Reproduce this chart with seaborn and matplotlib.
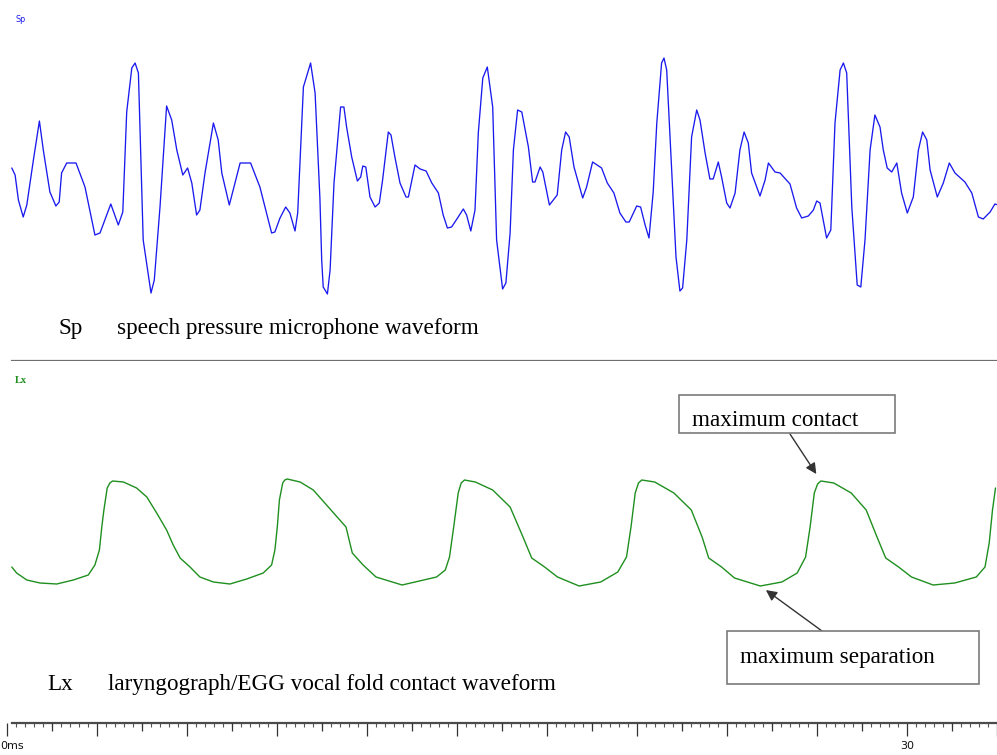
import numpy as np
import pandas as pd
import matplotlib
matplotlib.use("Agg")
import matplotlib.pyplot as plt
import matplotlib.transforms as mtransforms
from matplotlib.patches import Rectangle
from matplotlib.ticker import FixedLocator, FixedFormatter, NullFormatter
import seaborn as sns

# ---- speech pressure (Sp) waveform: time in ms, relative amplitude ----
sp_t = [0.16, 0.27, 0.38, 0.54, 0.66, 0.88, 1.08, 1.21, 1.43, 1.63, 1.74, 1.82, 1.99, 2.30, 2.60,
        2.93, 3.10, 3.46, 3.71, 3.86, 3.99, 4.16, 4.27, 4.38, 4.54, 4.80, 4.91, 5.10, 5.32, 5.49,
        5.66, 5.86, 6.02, 6.16, 6.32, 6.43, 6.60, 6.88, 7.04, 7.16, 7.41, 7.54, 7.77, 8.12, 8.43,
        8.82, 8.93, 9.10, 9.29, 9.43, 9.60, 9.69, 9.88, 10.12, 10.27, 10.43, 10.49, 10.54, 10.68,
        10.77, 10.90, 11.12, 11.23, 11.32, 11.49, 11.68, 11.79, 11.86, 11.96, 12.10, 12.27, 12.41,
        12.52, 12.71, 12.80, 12.93, 13.10, 13.30, 13.38, 13.60, 13.77, 13.97, 14.16, 14.38, 14.54,
        14.68, 14.82, 15.04, 15.21, 15.32, 15.46, 15.60, 15.71, 15.86, 16.01, 16.19, 16.32, 16.52,
        16.63, 16.77, 16.88, 17.02, 17.16, 17.38, 17.52, 17.60, 17.77, 17.86, 18.08, 18.21, 18.34,
        18.49, 18.62, 18.74, 18.90, 19.19, 19.32, 19.52, 19.82, 20.01, 20.23, 20.43, 20.63, 20.74,
        20.99, 21.12, 21.27, 21.40, 21.54, 21.66, 21.82, 21.90, 21.99, 22.16, 22.30, 22.43, 22.52,
        22.66, 22.82, 22.99, 23.10, 23.27, 23.43, 23.54, 23.71, 23.82, 23.99, 24.10, 24.27, 24.43,
        24.57, 24.71, 24.82, 25.10, 25.27, 25.38, 25.60, 25.77, 26.10, 26.32, 26.49, 26.71, 26.88,
        26.99, 27.10, 27.32, 27.46, 27.60, 27.77, 27.88, 27.99, 28.16, 28.34, 28.46, 28.60, 28.77,
        28.93, 29.10, 29.21, 29.34, 29.49, 29.66, 29.82, 30.01, 30.21, 30.38, 30.52, 30.66, 30.77,
        31.01, 31.21, 31.41, 31.60, 31.93, 32.16, 32.38, 32.54, 32.77, 32.93, 33.04]
sp_amp = [0.10, 0.03, -0.22, -0.39, -0.27, 0.18, 0.57, 0.28, -0.14, -0.28, -0.24, 0.05, 0.15, 0.15,
          -0.09, -0.57, -0.55, -0.26, -0.47, -0.34, 0.66, 1.10, 1.15, 1.05, -0.62, -1.15, -1.02,
          -0.29, 0.72, 0.58, 0.28, 0.03, 0.10, -0.05, -0.37, -0.32, 0.05, 0.55, 0.38, 0.05, -0.27,
          -0.12, 0.15, 0.15, -0.09, -0.55, -0.54, -0.40, -0.29, -0.35, -0.53, -0.35, 0.91, 1.15,
          0.85, -0.20, -0.82, -1.09, -1.16, -0.92, -0.05, 0.71, 0.71, 0.51, 0.21, -0.03, 0.01, 0.12,
          0.11, -0.19, -0.29, -0.25, -0.02, 0.46, 0.43, 0.21, -0.05, -0.19, -0.19, 0.13, 0.09, 0.07,
          -0.05, -0.15, -0.37, -0.50, -0.49, -0.39, -0.31, -0.37, -0.53, -0.32, 0.45, 1.00, 1.11,
          0.71, -0.62, -1.11, -1.05, -0.55, 0.28, 0.68, 0.66, 0.31, -0.04, -0.04, 0.11, 0.06, -0.27,
          -0.22, -0.17, 0.28, 0.46, 0.41, 0.11, -0.20, -0.09, 0.16, 0.10, -0.05, -0.15, -0.35, -0.44,
          -0.44, -0.28, -0.29, -0.47, -0.60, -0.14, 0.55, 1.15, 1.20, 1.08, 0.05, -0.79, -1.13,
          -1.10, -0.62, 0.41, 0.68, 0.58, 0.25, -0.01, -0.01, 0.16, 0.01, -0.25, -0.30, -0.15, 0.28,
          0.46, 0.35, 0.05, -0.18, -0.02, 0.15, 0.06, 0.05, -0.06, -0.30, -0.40, -0.38, -0.32, -0.23,
          -0.25, -0.60, -0.52, 0.55, 1.08, 1.15, 1.05, -0.29, -1.07, -1.09, -0.62, 0.28, 0.63, 0.51,
          0.28, 0.10, 0.06, 0.15, -0.15, -0.35, -0.19, 0.28, 0.46, 0.38, 0.08, -0.19, -0.05, 0.15,
          0.05, -0.04, -0.15, -0.39, -0.41, -0.34, -0.26, -0.27]

# ---- laryngograph (Lx) vocal fold contact waveform ----
lx_t = [0.16, 0.32, 0.66, 1.10, 1.66, 2.21, 2.71, 2.93, 3.08, 3.16, 3.23, 3.34, 3.43, 3.52, 3.88,
        4.32, 4.66, 4.99, 5.32, 5.54, 5.77, 6.10, 6.43, 6.88, 7.43, 7.99, 8.54, 8.82, 8.93, 9.01,
        9.08, 9.19, 9.26, 9.34, 9.77, 10.21, 10.71, 11.30, 11.51, 11.87, 12.30, 13.17, 14.32,
        14.61, 14.75, 14.89, 15.04, 15.14, 15.25, 15.61, 16.19, 16.77, 17.20, 17.49, 17.92, 18.35,
        19.07, 19.79, 20.36, 20.65, 20.80, 20.94, 21.05, 21.16, 21.59, 22.23, 22.81, 23.17, 23.39,
        23.82, 24.25, 25.11, 25.83, 26.34, 26.62, 26.77, 26.91, 27.02, 27.13, 27.56, 28.14, 28.64,
        29.00, 29.29, 29.72, 30.15, 30.87, 31.59, 32.31, 32.60, 32.74, 32.85, 32.95]
lx_amp = [0.18, 0.12, 0.05, 0.02, 0.01, 0.05, 0.10, 0.20, 0.35, 0.58, 0.75, 0.97, 1.02, 1.04, 1.03,
          0.97, 0.88, 0.72, 0.55, 0.40, 0.27, 0.18, 0.08, 0.03, 0.01, 0.06, 0.12, 0.20, 0.35, 0.58,
          0.85, 1.02, 1.05, 1.06, 1.03, 0.95, 0.78, 0.58, 0.32, 0.20, 0.08, 0.00, 0.08, 0.15, 0.28,
          0.58, 0.92, 1.02, 1.05, 1.03, 0.95, 0.78, 0.48, 0.27, 0.18, 0.08, -0.01, 0.03, 0.13, 0.28,
          0.58, 0.92, 1.02, 1.05, 1.03, 0.92, 0.75, 0.48, 0.27, 0.18, 0.07, -0.01, 0.03, 0.12, 0.28,
          0.58, 0.92, 1.01, 1.04, 1.02, 0.92, 0.75, 0.48, 0.27, 0.18, 0.08, 0.00, 0.02, 0.08, 0.18,
          0.42, 0.75, 0.97]

# ---- time ruler ----
ruler_major = [0, 3, 6, 9, 12, 15, 18, 21, 24, 27, 30, 33]
ruler_labels = ["0ms", "", "", "", "", "", "", "", "", "", "30", ""]
ruler_mid = [1.5, 4.5, 7.5, 10.5, 13.5, 16.5, 19.5, 22.5, 25.5, 28.5, 31.5]
ruler_minor_step = 0.3

sp_tag, sp_caption = "Sp", "speech pressure microphone waveform"
lx_tag, lx_caption = "Lx", "laryngograph/EGG vocal fold contact waveform"
contact_note = "maximum contact"
separation_note = "maximum separation"

SP_COLOR = "#1a1aee"
LX_COLOR = "#1f8f1f"
SERIF = ["Liberation Serif", "DejaVu Serif"]

sns.set_style("white")
W, H = 997, 755
fig = plt.figure(figsize=(W / 100, H / 100), dpi=100)


def fpos(x, y):
    """Pixel position on the canvas -> figure fraction."""
    return x / W, 1 - y / H


X_LIM = (-7 / 30, 33.0)

ax_sp = fig.add_axes([0, 1 - 361 / H, 1, 361 / H])
ax_lx = fig.add_axes([0, 1 - 723 / H, 1, (723 - 361) / H])

sp_df = pd.DataFrame({"t": sp_t, "amp": sp_amp})
lx_df = pd.DataFrame({"t": lx_t, "amp": lx_amp})
sns.lineplot(data=sp_df, x="t", y="amp", ax=ax_sp, color=SP_COLOR, linewidth=0.95,
             sort=False, estimator=None)
sns.lineplot(data=lx_df, x="t", y="amp", ax=ax_lx, color=LX_COLOR, linewidth=1.0,
             sort=False, estimator=None)

ax_sp.set_xlim(*X_LIM)
ax_sp.set_ylim(-1.83, 1.78)
ax_lx.set_xlim(*X_LIM)
ax_lx.set_ylim(-1.38, 2.24)

for ax in (ax_sp, ax_lx):
    ax.set_xlabel("")
    ax.set_ylabel("")
    ax.set_yticks([])
    for side in ("top", "left", "right"):
        ax.spines[side].set_visible(False)
    ax.spines["bottom"].set_bounds(5 / 30, 33.0)

# separator between the two traces
ax_sp.set_xticks([])
ax_sp.spines["bottom"].set_color("#6e6e6e")
ax_sp.spines["bottom"].set_linewidth(1.6)

# time ruler along the bottom
ax_lx.spines["bottom"].set_color("#4a4a4a")
ax_lx.spines["bottom"].set_linewidth(1.6)
ax_lx.xaxis.set_major_locator(FixedLocator(ruler_major))
ax_lx.xaxis.set_major_formatter(FixedFormatter(ruler_labels))
ax_lx.xaxis.set_minor_locator(FixedLocator(np.arange(0, 33.01, ruler_minor_step)))
ax_lx.xaxis.set_minor_formatter(NullFormatter())
ax_lx.tick_params(axis="x", which="major", direction="out", length=9, width=0.9,
                  color="#333333", pad=4, labelsize=8, labelcolor="#111111")
ax_lx.tick_params(axis="x", which="minor", direction="out", length=3.2, width=0.8,
                  color="#555555")
# keep the "0ms" label inside the canvas
first_label = ax_lx.get_xticklabels()[0]
first_label.set_horizontalalignment("left")
first_label.set_transform(first_label.get_transform()
                          + mtransforms.ScaledTranslation(-5 / 72, 0, fig.dpi_scale_trans))

ax_mid = ax_lx.twiny()
ax_mid.set_xlim(*X_LIM)
ax_mid.xaxis.set_ticks_position("bottom")
ax_mid.xaxis.set_major_locator(FixedLocator(ruler_mid))
ax_mid.xaxis.set_major_formatter(NullFormatter())
ax_mid.tick_params(axis="x", which="major", direction="out", length=6, width=0.9,
                   color="#333333")
ax_mid.patch.set_visible(False)
for side in ax_mid.spines:
    ax_mid.spines[side].set_visible(False)

# channel tags
fig.text(*fpos(15, 22), sp_tag, fontsize=5.8, color=SP_COLOR, va="baseline")
fig.text(*fpos(15, 383), lx_tag, fontsize=7.5, color=LX_COLOR, va="baseline",
         family=SERIF, fontweight="bold")

# captions
cap_kw = dict(fontsize=16.7, family=SERIF, va="baseline", color="black")
fig.text(*fpos(58, 334), sp_tag, **cap_kw)
fig.text(*fpos(117, 334), sp_caption, **cap_kw)
fig.text(*fpos(47, 690), lx_tag, **cap_kw)
fig.text(*fpos(108, 690), lx_caption, **cap_kw)

# annotation boxes
for (x0, y0, x1, y1) in [(679, 395, 895, 433), (727, 631, 979, 684)]:
    fig.add_artist(Rectangle(fpos(x0, y1), (x1 - x0) / W, (y1 - y0) / H,
                             transform=fig.transFigure, facecolor="white",
                             edgecolor="#7a7a7a", linewidth=1.2, zorder=5))
fig.text(*fpos(692, 426), contact_note, zorder=6, **cap_kw)
fig.text(*fpos(740, 663), separation_note, zorder=6, **cap_kw)

# arrows to the contact peak and separation trough of the fifth cycle
lx_t_arr = np.asarray(lx_t)
lx_a_arr = np.asarray(lx_amp)
peak_i = int(np.argmax(np.where((lx_t_arr > 26) & (lx_t_arr < 29), lx_a_arr, -np.inf)))
trough_i = int(np.argmin(np.where((lx_t_arr > 24) & (lx_t_arr < 26.5), lx_a_arr, np.inf)))

arrow_kw = dict(arrowstyle="-|>", color="#333333", lw=1.0, mutation_scale=16, shrinkA=0)
ax_lx.annotate("", xy=(lx_t_arr[peak_i], lx_a_arr[peak_i]), xycoords="data",
               xytext=fpos(790, 434), textcoords="figure fraction",
               arrowprops=dict(shrinkB=6, **arrow_kw), annotation_clip=False)
ax_lx.annotate("", xy=(lx_t_arr[trough_i], lx_a_arr[trough_i]), xycoords="data",
               xytext=fpos(822, 631), textcoords="figure fraction",
               arrowprops=dict(shrinkB=5, **arrow_kw), annotation_clip=False)

fig.savefig("out.png", dpi=100)
